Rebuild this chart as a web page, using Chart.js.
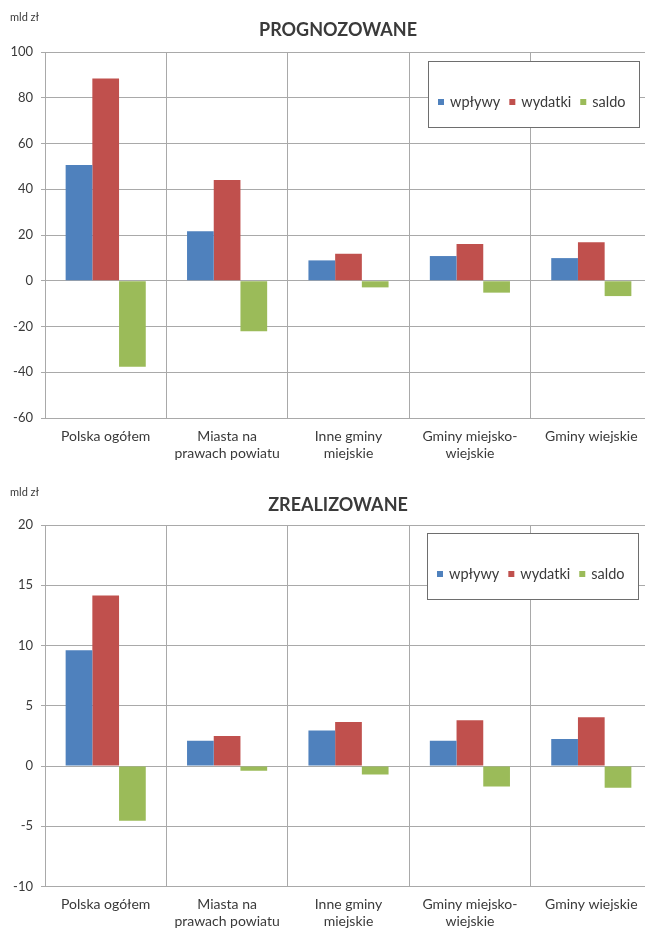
<!DOCTYPE html>
<html>
<head>
<meta charset="utf-8">
<script src="https://cdn.jsdelivr.net/npm/chart.js@4/dist/chart.umd.min.js"></script>
<style>
  html, body { margin: 0; padding: 0; background: #ffffff; overflow: hidden; width: 645px; height: 930px; }
  canvas { display: block; }
</style>
</head>
<body>
<canvas id="forecast" width="660" height="465"></canvas>
<canvas id="realized" width="660" height="465"></canvas>
<script>
// Kategorie gmin (etykiety osi X, wielowierszowe)
const categories = [
  ['Polska ogółem'],
  ['Miasta na', 'prawach powiatu'],
  ['Inne gminy', 'miejskie'],
  ['Gminy miejsko-', 'wiejskie'],
  ['Gminy wiejskie']
];
const seriesNames = ['wpływy', 'wydatki', 'saldo'];
const seriesColors = ['#4F81BD', '#C0504D', '#9BBB59'];

// Prognozowane (mld zł)
const forecastInflows  = [50.6, 21.6, 8.9, 10.8, 9.9];
const forecastSpending = [88.4, 44.0, 11.8, 16.1, 16.8];
const forecastBalance  = [-37.6, -22.1, -2.9, -5.2, -6.7];
const forecastTicks    = [-60, -40, -20, 0, 20, 40, 60, 80, 100];

// Zrealizowane (mld zł)
const realizedInflows  = [9.6, 2.1, 2.95, 2.1, 2.25];
const realizedSpending = [14.15, 2.5, 3.65, 3.8, 4.05];
const realizedBalance  = [-4.55, -0.4, -0.7, -1.7, -1.8];
const realizedTicks    = [-10, -5, 0, 5, 10, 15, 20];

const FONT = 'Lato, "Open Sans", sans-serif';
const TEXT = '#3a3a3a';
const GRID = '#a9a9a9';

// Tytuł, jednostka i legenda w ramce
const decorations = {
  id: 'decorations',
  afterDraw(chart, args, opts) {
    const ctx = chart.ctx;
    ctx.save();
    ctx.fillStyle = TEXT;
    ctx.textBaseline = 'middle';
    ctx.font = '11px ' + FONT;
    ctx.textAlign = 'left';
    ctx.fillText('mld zł', 10, opts.unitY);
    ctx.font = 'bold 18px ' + FONT;
    ctx.textAlign = 'center';
    ctx.fillText(opts.title, 338, opts.titleY);

    const b = opts.legendBox;
    ctx.fillStyle = '#ffffff';
    ctx.fillRect(b.x, b.y, b.w, b.h);
    ctx.strokeStyle = '#6e6e6e';
    ctx.lineWidth = 1;
    ctx.strokeRect(b.x + 0.5, b.y + 0.5, b.w, b.h);
    ctx.font = '14.5px ' + FONT;
    ctx.textAlign = 'left';
    let x = b.x + 10;
    const y = b.y + b.h / 2 + 8;
    chart.data.datasets.forEach(ds => {
      ctx.fillStyle = ds.backgroundColor;
      ctx.fillRect(x, y - 3, 6, 6);
      x += 12;
      ctx.fillStyle = TEXT;
      ctx.fillText(ds.label, x, y);
      x += ctx.measureText(ds.label).width + 9;
    });
    ctx.restore();
  }
};

function makeChart(id, title, inflows, spending, balance, ticks, cfg) {
  const series = [inflows, spending, balance];
  return new Chart(document.getElementById(id), {
    type: 'bar',
    data: {
      labels: categories,
      datasets: series.map((d, i) => ({
        label: seriesNames[i],
        data: d,
        backgroundColor: seriesColors[i],
        borderWidth: 0,
        categoryPercentage: 0.66,
        barPercentage: 1.0
      }))
    },
    options: {
      responsive: false,
      animation: false,
      layout: { padding: { top: cfg.top, right: 8, left: 0, bottom: 0 } },
      plugins: {
        legend: { display: false },
        tooltip: { enabled: false },
        title: { display: false },
        decorations: {
          title: title,
          titleY: cfg.titleY,
          unitY: cfg.unitY,
          legendBox: cfg.legendBox
        }
      },
      scales: {
        x: {
          grid: { color: GRID, offset: true, drawTicks: false, lineWidth: 1 },
          border: { color: GRID },
          ticks: { color: TEXT, font: { family: FONT, size: 14 }, padding: 10, maxRotation: 0, autoSkip: false, lineHeight: 1.15 },
          afterFit(scale) { scale.height = cfg.xHeight; }
        },
        y: {
          min: ticks[0],
          max: ticks[ticks.length - 1],
          afterBuildTicks(scale) { scale.ticks = ticks.map(v => ({ value: v })); },
          grid: { color: GRID, tickLength: 4, lineWidth: 1 },
          border: { color: GRID },
          ticks: { color: TEXT, font: { family: FONT, size: 13 }, padding: 8 },
          afterFit(scale) { scale.width = 45; }
        }
      }
    },
    plugins: [decorations]
  });
}

makeChart('forecast', 'PROGNOZOWANE', forecastInflows, forecastSpending, forecastBalance, forecastTicks, {
  top: 52, xHeight: 47, titleY: 30, unitY: 17,
  legendBox: { x: 428, y: 61, w: 211, h: 66 }
});
makeChart('realized', 'ZREALIZOWANE', realizedInflows, realizedSpending, realizedBalance, realizedTicks, {
  top: 60, xHeight: 43.5, titleY: 40, unitY: 27,
  legendBox: { x: 427, y: 68, w: 211, h: 66 }
});
</script>
</body>
</html>
